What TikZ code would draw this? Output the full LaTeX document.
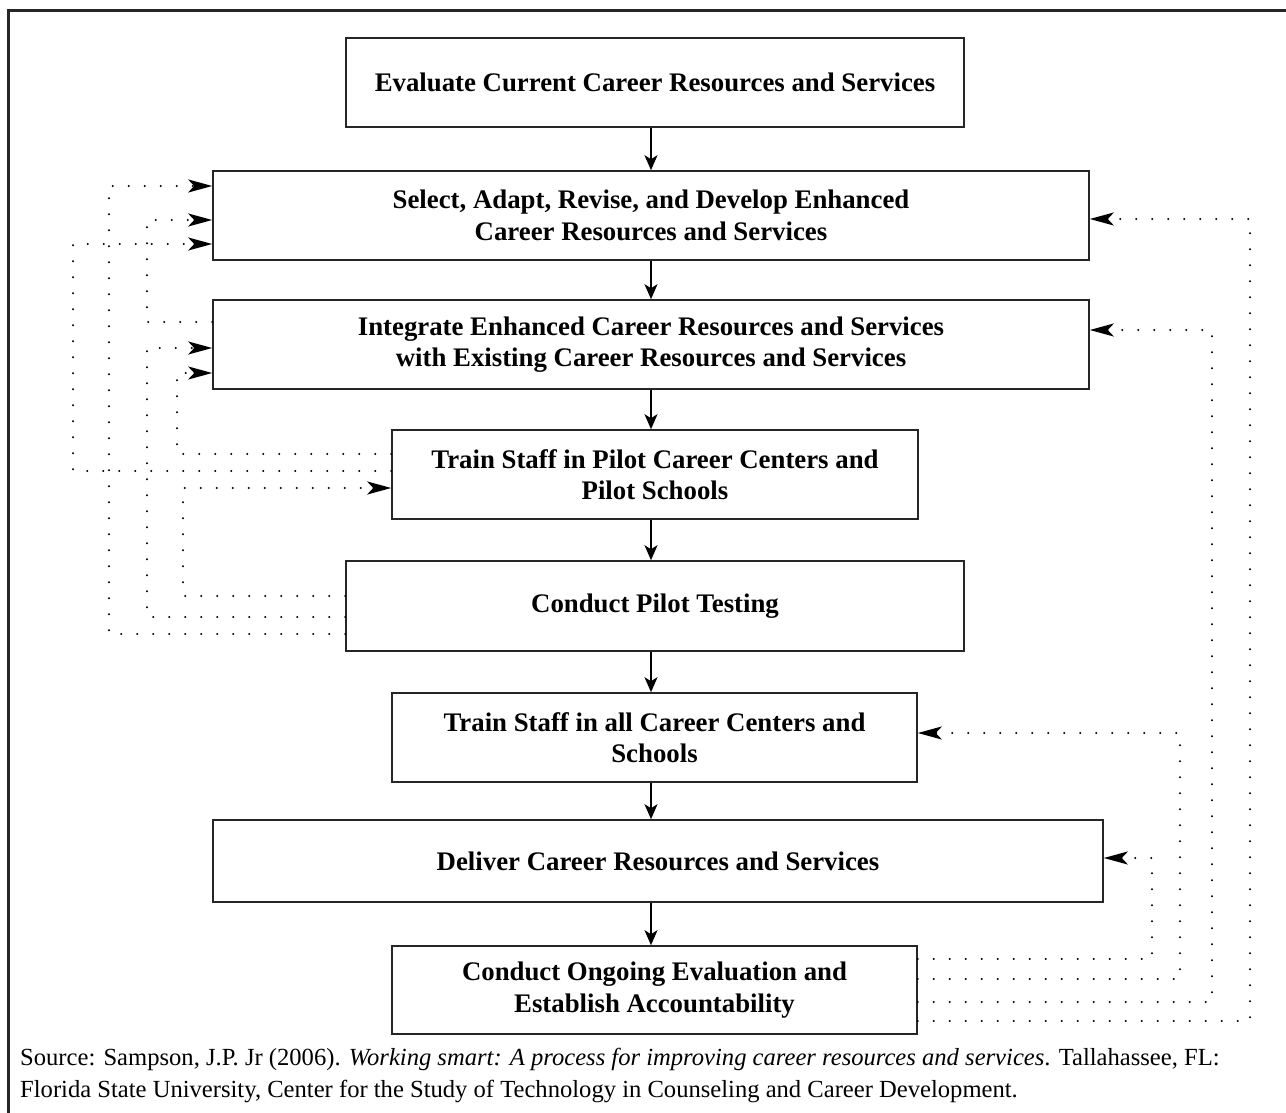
\documentclass[tikz,border=0pt]{standalone}
\usepackage{fontspec}
\setmainfont{Liberation Serif}
\usetikzlibrary{arrows.meta}

\tikzset{
  stepbox/.style={draw=black!85, line width=1.6pt, align=center, inner sep=0pt,
    font=\fontsize{26.8}{31.5}\selectfont\bfseries},
  flowarrow/.style={line width=1.6pt, -{Stealth[length=15pt, width=13pt, inset=4pt]}},
  fbline/.style={line width=2.2pt, line cap=round, dash pattern=on 0pt off 16pt},
  fbarrow/.style={fbline, -{Stealth[length=24pt, width=13pt, inset=6pt]}}
}

\begin{document}
\begin{tikzpicture}[x=1pt, y=-1pt]
\useasboundingbox (0,0) rectangle (1286,1113);

% frame
\draw[line width=3pt, black!85] (8,1113) -- (8,11) -- (1286,11);

% boxes
\node[stepbox, minimum width=618pt, minimum height=89pt] (eval) at (655,82.5)
  {Evaluate Current Career Resources and Services};
\node[stepbox, minimum width=876pt, minimum height=89pt] (select) at (651,215.5)
  {Select, Adapt, Revise, and Develop Enhanced\\Career Resources and Services};
\node[stepbox, minimum width=876pt, minimum height=89pt] (integ) at (651,344.5)
  {Integrate Enhanced Career Resources and Services\\with Existing Career Resources and Services};
\node[stepbox, minimum width=526pt, minimum height=89pt] (trainp) at (655,474.5)
  {Train Staff in Pilot Career Centers and\\Pilot Schools};
\node[stepbox, minimum width=618pt, minimum height=90pt] (pilot) at (655,606)
  {Conduct Pilot Testing};
\node[stepbox, minimum width=525pt, minimum height=89pt] (trainall) at (654.5,737.5)
  {Train Staff in all Career Centers and\\Schools};
\node[stepbox, minimum width=890pt, minimum height=82pt] (deliver) at (658,861)
  {Deliver Career Resources and Services};
\node[stepbox, minimum width=525pt, minimum height=88pt] (ongoing) at (654.5,990)
  {Conduct Ongoing Evaluation and\\Establish Accountability};

% main flow
\coordinate (spine) at (651,0);
\draw[flowarrow] (eval.south -| spine) -- (select.north -| spine);
\draw[flowarrow] (select.south -| spine) -- (integ.north -| spine);
\draw[flowarrow] (integ.south -| spine) -- (trainp.north -| spine);
\draw[flowarrow] (trainp.south -| spine) -- (pilot.north -| spine);
\draw[flowarrow] (pilot.south -| spine) -- (trainall.north -| spine);
\draw[flowarrow] (trainall.south -| spine) -- (deliver.north -| spine);
\draw[flowarrow] (deliver.south -| spine) -- (ongoing.north -| spine);

% feedback, left side
\draw[fbarrow] (pilot.west |- 0,634) -| (109,186) -- (select.west |- 0,186);
\draw[fbarrow] (integ.west |- 0,322) -| (147,220) -- (select.west |- 0,220);
\draw[fbarrow] (trainp.west |- 0,471) -| (73,244) -- (select.west |- 0,244);
\draw[fbarrow] (pilot.west |- 0,617) -| (147,348) -- (integ.west |- 0,348);
\draw[fbarrow] (trainp.west |- 0,454) -| (177,373) -- (integ.west |- 0,373);
\draw[fbarrow] (pilot.west |- 0,596) -| (183,488) -- (trainp.west |- 0,488);

% feedback, right side
\draw[fbarrow] (ongoing.east |- 0,959) -| (1152,858) -- (deliver.east |- 0,858);
\draw[fbarrow] (ongoing.east |- 0,979) -| (1180,733) -- (trainall.east |- 0,733);
\draw[fbarrow] (ongoing.east |- 0,1002) -| (1212,330) -- (integ.east |- 0,330);
\draw[fbarrow] (ongoing.east |- 0,1021) -| (1250,219) -- (select.east |- 0,219);

% source
\node[anchor=base west, align=left, inner sep=0pt,
  font=\fontsize{24.6}{32}\selectfont] (source) at (20,1097)
  {Source: Sampson, J.P. Jr (2006). \textit{Working smart: A process for improving career resources and services}. Tallahassee, FL:\\
   Florida State University, Center for the Study of Technology in Counseling and Career Development.};
\end{tikzpicture}
\end{document}
